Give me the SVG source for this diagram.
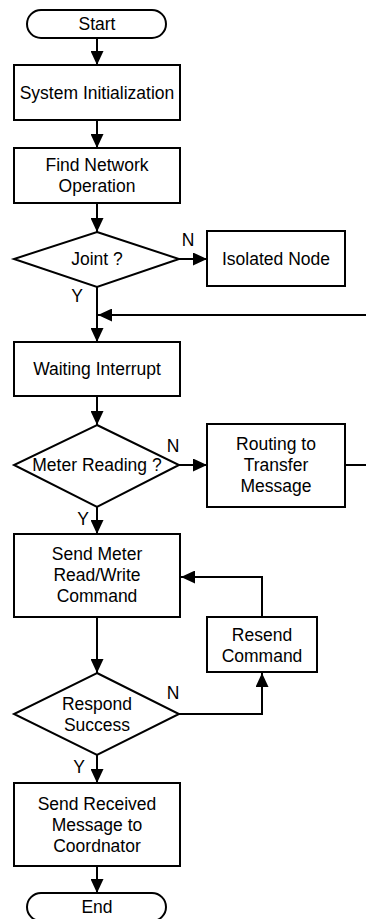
<svg xmlns="http://www.w3.org/2000/svg" width="366" height="919" viewBox="0 0 366 919">
<style>
.s{fill:#fff;stroke:#000;stroke-width:2}
.t{font-family:"Liberation Sans",Arial,sans-serif;font-size:17.5px;fill:#000;text-anchor:middle}
.c{fill:none;stroke:#000;stroke-width:2}
</style>
<defs>
<marker id="a" markerUnits="userSpaceOnUse" markerWidth="14" markerHeight="13" refX="14" refY="6.5" orient="auto">
<path d="M0,0 L14,6.5 L0,13 z" fill="#000"/>
</marker>
</defs>
<rect width="366" height="919" fill="#fff"/>
<g id="connectors">
<path class="c" d="M97,38 V65" marker-end="url(#a)"/>
<path class="c" d="M97,120 V148" marker-end="url(#a)"/>
<path class="c" d="M97,203 V232" marker-end="url(#a)"/>
<path class="c" d="M179,259 H207" marker-end="url(#a)"/>
<path class="c" d="M97,287 V342" marker-end="url(#a)"/>
<path class="c" d="M366,315 H98" marker-end="url(#a)"/>
<path class="c" d="M97,396 V425" marker-end="url(#a)"/>
<path class="c" d="M179,465 H207" marker-end="url(#a)"/>
<path class="c" d="M345,465 H366"/>
<path class="c" d="M97,507 V534" marker-end="url(#a)"/>
<path class="c" d="M97,617 V673" marker-end="url(#a)"/>
<path class="c" d="M179,714 H262 V673" marker-end="url(#a)"/>
<path class="c" d="M262,617 V577 H181" marker-end="url(#a)"/>
<path class="c" d="M97,755 V783" marker-end="url(#a)"/>
<path class="c" d="M97,866 V893" marker-end="url(#a)"/>
<text class="t" x="188" y="246">N</text>
<text class="t" x="77" y="302">Y</text>
<text class="t" x="173" y="452">N</text>
<text class="t" x="83" y="525">Y</text>
<text class="t" x="173" y="699">N</text>
<text class="t" x="79" y="773">Y</text>
</g>
<g id="start"><rect class="s" x="27" y="10" width="139" height="28" rx="14"/><text class="t" x="97" y="30">Start</text></g>
<g id="sysinit"><rect class="s" x="14" y="65" width="166" height="55"/><text class="t" x="97" y="98.5">System Initialization</text></g>
<g id="findnet"><rect class="s" x="14" y="148" width="166" height="55"/><text class="t" x="97" y="171">Find Network</text><text class="t" x="97" y="192">Operation</text></g>
<g id="joint"><polygon class="s" points="97,232 179,259 97,287 14,259"/><text class="t" x="97" y="265">Joint ?</text></g>
<g id="isolated"><rect class="s" x="207" y="231" width="138" height="55"/><text class="t" x="276" y="265">Isolated Node</text></g>
<g id="waiting"><rect class="s" x="14" y="342" width="166" height="54"/><text class="t" x="97" y="375">Waiting Interrupt</text></g>
<g id="meter"><polygon class="s" points="97,425 179,465 97,507 14,465"/><text class="t" x="97" y="471">Meter Reading ?</text></g>
<g id="routing"><rect class="s" x="207" y="424" width="138" height="83"/><text class="t" x="276" y="450">Routing to</text><text class="t" x="276" y="471">Transfer</text><text class="t" x="276" y="492">Message</text></g>
<g id="sendmeter"><rect class="s" x="14" y="534" width="166" height="83"/><text class="t" x="97" y="560">Send Meter</text><text class="t" x="97" y="581">Read/Write</text><text class="t" x="97" y="602">Command</text></g>
<g id="resend"><rect class="s" x="207" y="617" width="110" height="55"/><text class="t" x="262" y="640.5">Resend</text><text class="t" x="262" y="661.5">Command</text></g>
<g id="respond"><polygon class="s" points="97,673 179,714 97,755 14,714"/><text class="t" x="97" y="709.5">Respond</text><text class="t" x="97" y="730.5">Success</text></g>
<g id="sendrecv"><rect class="s" x="14" y="783" width="166" height="83"/><text class="t" x="97" y="809.5">Send Received</text><text class="t" x="97" y="830.5">Message to</text><text class="t" x="97" y="851.5">Coordnator</text></g>
<g id="end"><rect class="s" x="27" y="893" width="139" height="28" rx="14"/><text class="t" x="97" y="913">End</text></g>
</svg>
